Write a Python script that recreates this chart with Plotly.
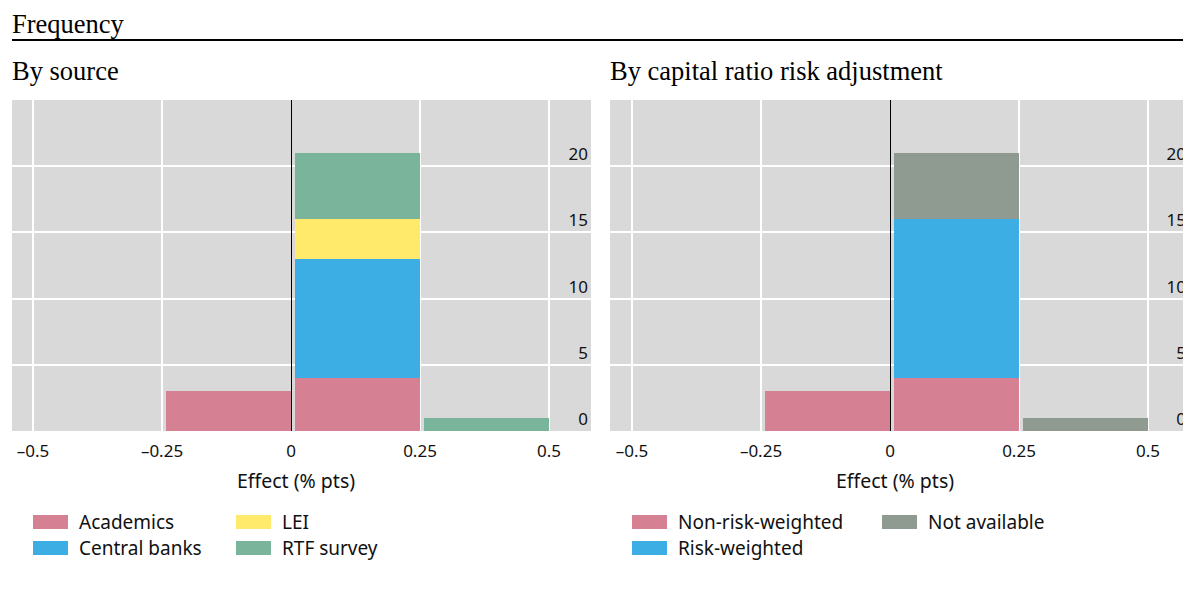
import plotly.graph_objects as go

# ---------------- data ----------------
bin_left = [-0.25, 0.0, 0.25]          # left edges of the 0.25-wide bins

src_names = ["Academics", "Central banks", "LEI", "RTF survey"]
academics = [3, 4, 0]
central_banks = [0, 9, 0]
lei = [0, 3, 0]
rtf_survey = [0, 5, 1]

risk_names = ["Non-risk-weighted", "Risk-weighted", "Not available"]
non_risk_weighted = [3, 4, 0]
risk_weighted = [0, 12, 0]
not_available = [0, 5, 1]

x_tickvals = [-0.5, -0.25, 0, 0.25, 0.5]
x_ticktext = ["\u20130.5", "\u20130.25", "0", "0.25", "0.5"]
y_tickvals = [0, 5, 10, 15, 20]

# ---------------- style ----------------
C_PINK = "#d68093"
C_BLUE = "#3caee3"
C_YELLOW = "#ffea6b"
C_GREEN = "#7ab49a"
C_GREY = "#8f9a91"
BG = "#d9d9d9"

src_colors = [C_PINK, C_BLUE, C_YELLOW, C_GREEN]
risk_colors = [C_PINK, C_BLUE, C_GREY]

W, H = 1200, 603
SANS = "Noto Sans"
SERIF = "Liberation Serif"


def px_x(p):
    return p / W


def px_y(p):
    return 1 - p / H


fig = go.Figure()

BAR_W = 0.242
BAR_OFF = 0.008

for name, vals, col in zip(src_names, [academics, central_banks, lei, rtf_survey], src_colors):
    fig.add_trace(go.Bar(x=bin_left, y=vals, name=name, marker=dict(color=col, line=dict(width=0)),
                         width=BAR_W, offset=BAR_OFF, xaxis="x", yaxis="y", showlegend=False))

for name, vals, col in zip(risk_names, [non_risk_weighted, risk_weighted, not_available], risk_colors):
    fig.add_trace(go.Bar(x=bin_left, y=vals, name=name, marker=dict(color=col, line=dict(width=0)),
                         width=BAR_W, offset=BAR_OFF, xaxis="x2", yaxis="y2", showlegend=False))

# panel geometry (pixels)
L1, R1 = 12, 591
L2, R2 = 610, 1189
TOP, BOT = 100, 431
UNIT = 516.0  # px per 1.0 on x


def xrange_for(left, right, x_at_minus_half):
    return [-0.5 - (x_at_minus_half - left) / UNIT, -0.5 + (right - x_at_minus_half) / UNIT]


xaxis_common = dict(
    tickvals=x_tickvals, ticktext=x_ticktext, showgrid=True, gridcolor="white", gridwidth=2,
    zeroline=True, zerolinecolor="black", zerolinewidth=1, ticks="", showline=False,
    ticklabelstandoff=8,
    tickfont=dict(family=SANS, size=17, color="#111"), fixedrange=True,
)
yaxis_common = dict(
    range=[0, 25], tickvals=y_tickvals, showgrid=True, gridcolor="white", gridwidth=2,
    zeroline=False, ticks="", side="right", ticklabelposition="inside top",
    tickfont=dict(family=SANS, size=17, color="#111"), fixedrange=True, showline=False,
)

fig.update_layout(
    width=W, height=H, margin=dict(l=0, r=0, t=0, b=0),
    paper_bgcolor="white", plot_bgcolor=BG, barmode="stack", bargap=0,
    xaxis=dict(domain=[px_x(L1), px_x(R1)], range=xrange_for(L1, R1, 33), anchor="y", **xaxis_common),
    yaxis=dict(domain=[px_y(BOT), px_y(TOP)], anchor="x", **yaxis_common),
    xaxis2=dict(domain=[px_x(L2), px_x(R2)], range=xrange_for(L2, R2, 632), anchor="y2", **xaxis_common),
    yaxis2=dict(domain=[px_y(BOT), px_y(TOP)], anchor="x2", **yaxis_common),
)

annotations = []
shapes = []

TITLE_FONT = dict(family=SERIF, size=26.5, color="black")

# titles
annotations.append(dict(text="Frequency", x=px_x(10), y=px_y(24), xref="paper", yref="paper",
                        xanchor="left", yanchor="middle", showarrow=False, font=TITLE_FONT))
shapes.append(dict(type="line", xref="paper", yref="paper", x0=px_x(12), x1=1, y0=px_y(40), y1=px_y(40),
                   line=dict(color="black", width=2)))
annotations.append(dict(text="By source", x=px_x(10), y=px_y(71), xref="paper", yref="paper",
                        xanchor="left", yanchor="middle", showarrow=False, font=TITLE_FONT))
annotations.append(dict(text="By capital ratio risk adjustment", x=px_x(608), y=px_y(71), xref="paper",
                        yref="paper", xanchor="left", yanchor="middle", showarrow=False, font=TITLE_FONT))

# x axis titles
for cx in (296, 895):
    annotations.append(dict(text="Effect (% pts)", x=px_x(cx), y=px_y(480), xref="paper", yref="paper",
                            xanchor="center", yanchor="middle", showarrow=False,
                            font=dict(family=SANS, size=19.5, color="#111")))

# custom legends (column-major, two rows)
def add_legend(names, colors, col_x, row_y):
    for i, (n, c) in enumerate(zip(names, colors)):
        col, row = divmod(i, 2)
        x0 = col_x[col]
        yc = row_y[row]
        shapes.append(dict(type="rect", xref="paper", yref="paper", x0=px_x(x0), x1=px_x(x0 + 35),
                           y0=px_y(yc + 7), y1=px_y(yc - 7), fillcolor=c, line=dict(width=0)))
        annotations.append(dict(text=n, x=px_x(x0 + 44), y=px_y(yc), xref="paper", yref="paper",
                                xanchor="left", yanchor="middle", showarrow=False,
                                font=dict(family=SANS, size=19, color="#111")))


add_legend(src_names, src_colors, [33, 236], [522, 548])
add_legend(risk_names, risk_colors, [632, 882], [522, 548])

fig.update_layout(annotations=annotations, shapes=shapes)

fig.write_html("out.html", config={"displayModeBar": False},
               post_script="document.body.style.margin='0';document.body.style.overflow='hidden';")
